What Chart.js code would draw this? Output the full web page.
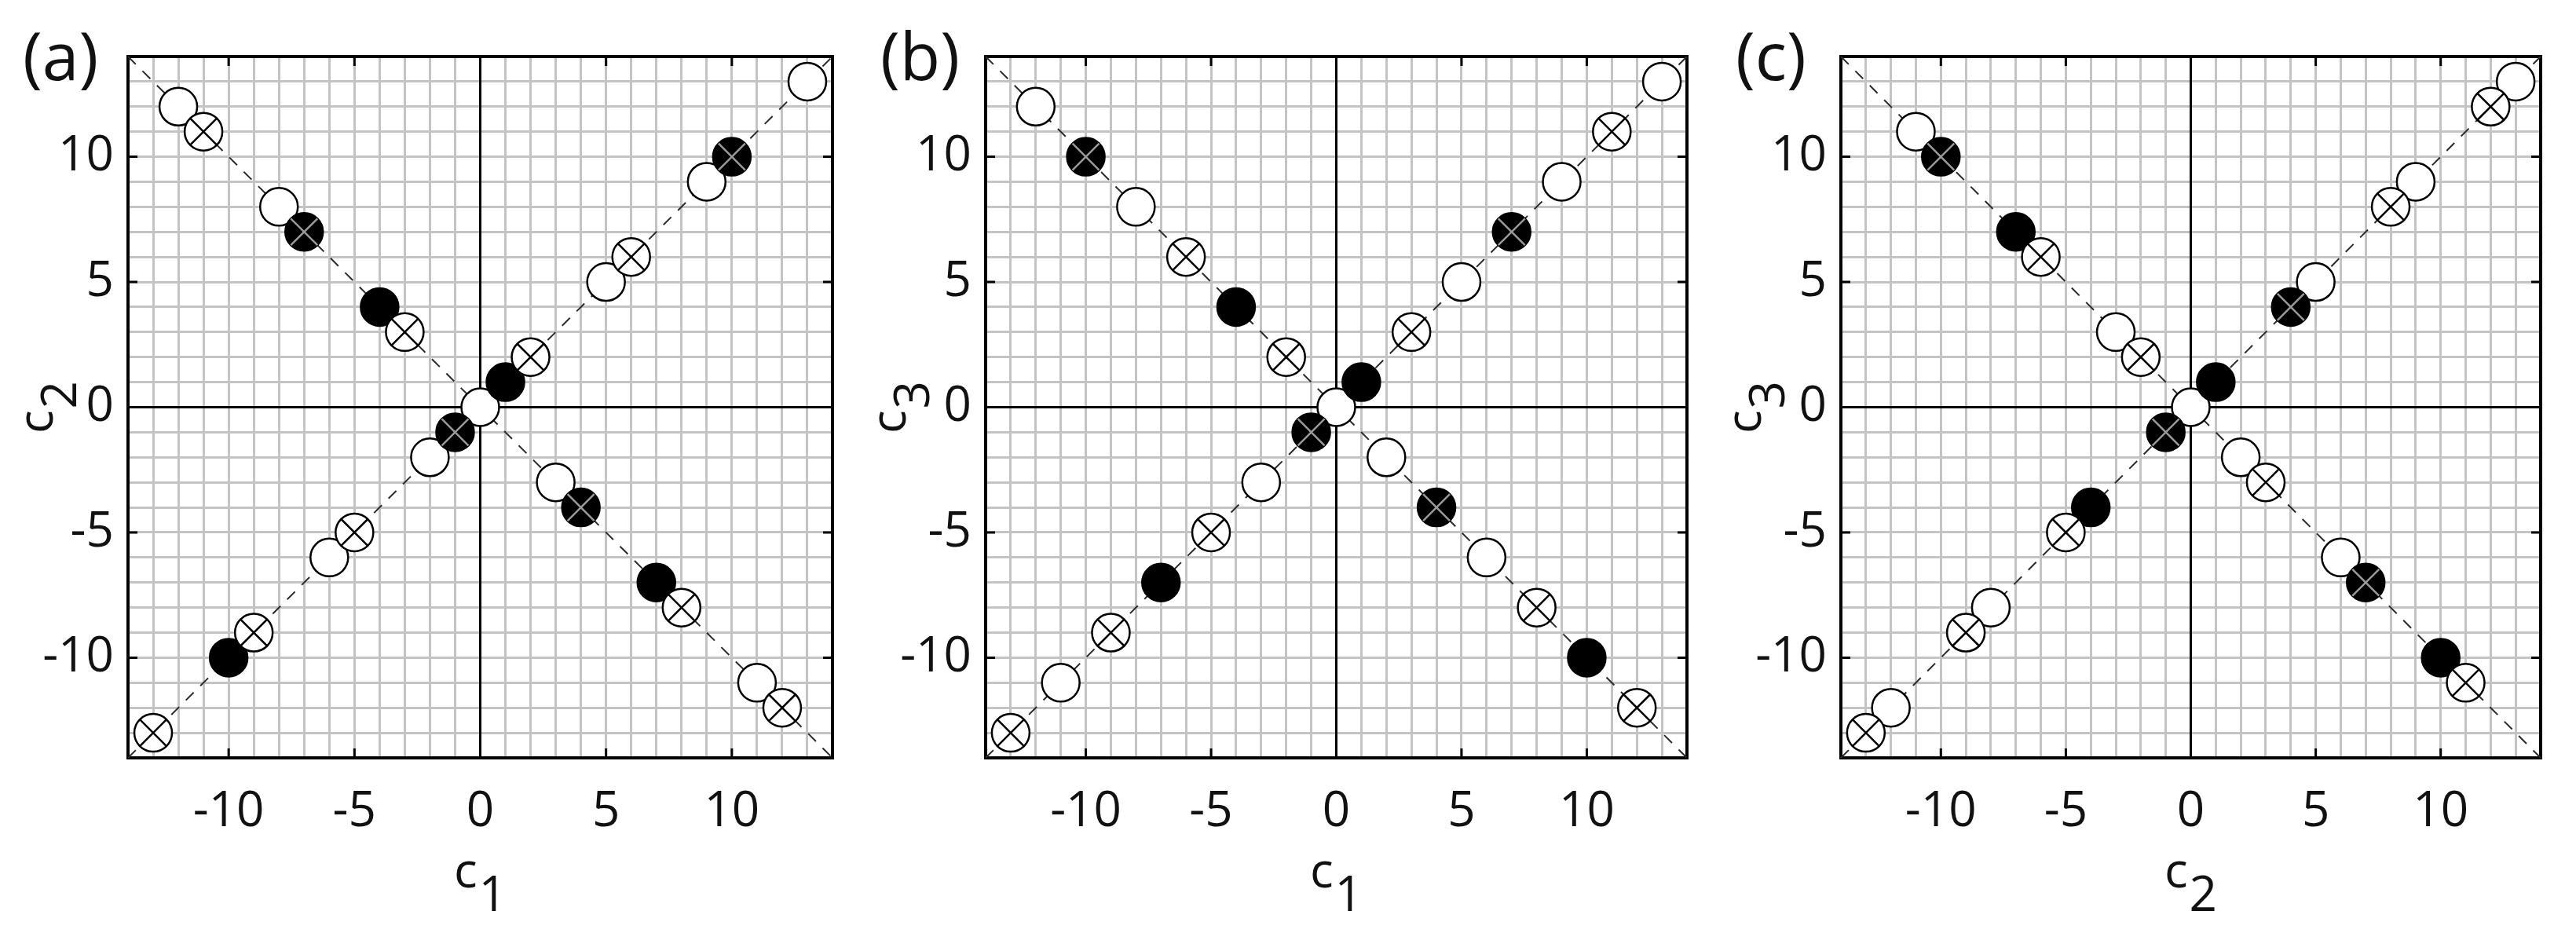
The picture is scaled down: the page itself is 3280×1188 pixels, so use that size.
<!DOCTYPE html>
<html>
<head>
<meta charset="utf-8">
<script src="https://cdn.jsdelivr.net/npm/chart.js@4.4.0/dist/chart.umd.min.js"></script>
<style>
  body { margin: 0; background: #fff; width: 3280px; height: 1188px; overflow: hidden; position: relative; }
  canvas { position: absolute; top: 0; }
</style>
</head>
<body>
<canvas id="chartA" width="1093" height="1188" style="left:0px"></canvas>
<canvas id="chartB" width="1093" height="1188" style="left:1093px"></canvas>
<canvas id="chartC" width="1094" height="1188" style="left:2186px"></canvas>
<script>
const axisMin = -14, axisMax = 14;
const majorTicks = [-10, -5, 0, 5, 10];

// (a) c1 vs c2
const aOpen   = [[13,13],[9,9],[5,5],[0,0],[-2,-2],[-6,-6],[-12,12],[-8,8],[3,-3],[11,-11]];
const aOpenX  = [[6,6],[2,2],[-5,-5],[-9,-9],[-13,-13],[-11,11],[-3,3],[8,-8],[12,-12]];
const aFilled = [[1,1],[-10,-10],[-4,4],[7,-7]];
const aFilledX = [[10,10],[-1,-1],[-7,7],[4,-4]];

// (b) c1 vs c3
const bOpen   = [[13,13],[9,9],[5,5],[0,0],[-3,-3],[-11,-11],[-12,12],[-8,8],[2,-2],[6,-6]];
const bOpenX  = [[11,11],[3,3],[-5,-5],[-9,-9],[-13,-13],[-6,6],[-2,2],[8,-8],[12,-12]];
const bFilled = [[1,1],[-7,-7],[-4,4],[10,-10]];
const bFilledX = [[7,7],[-1,-1],[-10,10],[4,-4]];

// (c) c2 vs c3
const cOpen   = [[13,13],[9,9],[5,5],[0,0],[-8,-8],[-12,-12],[-11,11],[-3,3],[2,-2],[6,-6]];
const cOpenX  = [[12,12],[8,8],[-5,-5],[-9,-9],[-13,-13],[-6,6],[-2,2],[3,-3],[11,-11]];
const cFilled = [[1,1],[-4,-4],[-7,7],[10,-10]];
const cFilledX = [[4,4],[-1,-1],[-10,10],[7,-7]];

const FONT = "'Open Sans', 'Liberation Sans', sans-serif";
const R = 24;

const toXY = pts => pts.map(p => ({x: p[0], y: p[1]}));

// zero lines, box, small inward ticks, axis titles with subscripts, panel letters
const decor = {
  id: 'decor',
  beforeDatasetsDraw(chart) {
    const {ctx, chartArea: a, scales} = chart;
    ctx.save();
    ctx.strokeStyle = '#000';
    ctx.lineWidth = 3;
    const x0 = scales.x.getPixelForValue(0), y0 = scales.y.getPixelForValue(0);
    ctx.beginPath();
    ctx.moveTo(x0, a.top); ctx.lineTo(x0, a.bottom);
    ctx.moveTo(a.left, y0); ctx.lineTo(a.right, y0);
    majorTicks.forEach(v => {
      if (v === 0) return;
      const px = scales.x.getPixelForValue(v);
      const py = scales.y.getPixelForValue(v);
      ctx.moveTo(px, a.bottom); ctx.lineTo(px, a.bottom - 12);
      ctx.moveTo(px, a.top); ctx.lineTo(px, a.top + 12);
      ctx.moveTo(a.left, py); ctx.lineTo(a.left + 12, py);
      ctx.moveTo(a.right, py); ctx.lineTo(a.right - 12, py);
    });
    ctx.stroke();
    ctx.lineWidth = 4;
    ctx.strokeRect(a.left, a.top, a.right - a.left, a.bottom - a.top);
    ctx.restore();
  },
  afterDraw(chart, args, o) {
    const {ctx, chartArea: a} = chart;
    ctx.save();
    ctx.fillStyle = '#111';
    ctx.textAlign = 'left';
    ctx.textBaseline = 'alphabetic';
    ctx.font = '84px ' + FONT;
    ctx.fillText(o.panel, a.left - 134, 102);

    ctx.font = '62px ' + FONT;
    const wc = ctx.measureText('c').width;
    const drawSub = (sub, cx, base) => {
      const ws = ctx.measureText(sub).width;
      const x0 = cx - (wc + ws + 2) / 2;
      ctx.fillText('c', x0, base);
      ctx.fillText(sub, x0 + wc + 2, base + 30);
    };
    drawSub(o.xSub, (a.left + a.right) / 2, 1130);
    ctx.translate(a.left - o.yTitleOffset, (a.top + a.bottom) / 2);
    ctx.rotate(-Math.PI / 2);
    drawSub(o.ySub, 0, 0);
    ctx.restore();
  }
};

function makeChart(id, open, openX, filled, filledX, opt) {
  const diagUp = [{x: axisMin, y: axisMin}, {x: axisMax, y: axisMax}];
  const diagDown = [{x: axisMin, y: axisMax}, {x: axisMax, y: axisMin}];
  const dash = {showLine: true, borderColor: '#2a2a2a', borderWidth: 2, borderDash: [14, 12], pointRadius: 0, order: 10};
  const mk = {pointStyle: 'circle', pointRadius: R, pointHoverRadius: R, borderColor: '#000', borderWidth: 2.5};
  const cross = {pointStyle: 'crossRot', pointRadius: R, pointHoverRadius: R, borderWidth: 2.5};

  const tickFont = {family: FONT, size: 62};
  const grid = {drawTicks: false, color: '#c4c4c4', lineWidth: 3};
  const label = v => majorTicks.includes(v) ? String(v) : '';

  return new Chart(document.getElementById(id), {
    type: 'scatter',
    data: {
      datasets: [
        Object.assign({data: diagUp}, dash),
        Object.assign({data: diagDown}, dash),
        Object.assign({data: toXY(open), backgroundColor: '#fff', order: 6}, mk),
        Object.assign({data: toXY(filled), backgroundColor: '#000', order: 5}, mk),
        Object.assign({data: toXY(filledX), backgroundColor: '#000', order: 4}, mk),
        Object.assign({data: toXY(filledX), borderColor: '#9a9a9a', order: 3}, cross),
        Object.assign({data: toXY(openX), backgroundColor: '#fff', order: 2}, mk),
        Object.assign({data: toXY(openX), borderColor: '#000', order: 1}, cross)
      ]
    },
    options: {
      responsive: false,
      animation: false,
      events: [],
      layout: {padding: {top: 72, right: opt.padRight, left: 0, bottom: 0}},
      plugins: {
        legend: {display: false},
        tooltip: {enabled: false},
        decor: opt
      },
      scales: {
        x: {
          type: 'linear', min: axisMin, max: axisMax,
          afterFit(s) { s.height = 223; },
          border: {display: false},
          grid: grid,
          ticks: {stepSize: 1, maxTicksLimit: 100, autoSkip: false, maxRotation: 0, minRotation: 0,
                  padding: 32, color: '#111', font: tickFont, callback: label}
        },
        y: {
          type: 'linear', min: axisMin, max: axisMax,
          afterFit(s) { s.width = opt.yWidth; },
          border: {display: false},
          grid: grid,
          ticks: {stepSize: 1, maxTicksLimit: 100, autoSkip: false,
                  padding: 18, color: '#111', font: tickFont, callback: label}
        }
      }
    },
    plugins: [decor]
  });
}

makeChart('chartA', aOpen, aOpenX, aFilled, aFilledX,
  {panel: '(a)', xSub: '1', ySub: '2', yWidth: 163, padRight: 33, yTitleOffset: 96});
makeChart('chartB', bOpen, bOpenX, bFilled, bFilledX,
  {panel: '(b)', xSub: '1', ySub: '3', yWidth: 162, padRight: 38, yTitleOffset: 102});
makeChart('chartC', cOpen, cOpenX, cFilled, cFilledX,
  {panel: '(c)', xSub: '2', ySub: '3', yWidth: 158, padRight: 45, yTitleOffset: 102});
</script>
</body>
</html>
